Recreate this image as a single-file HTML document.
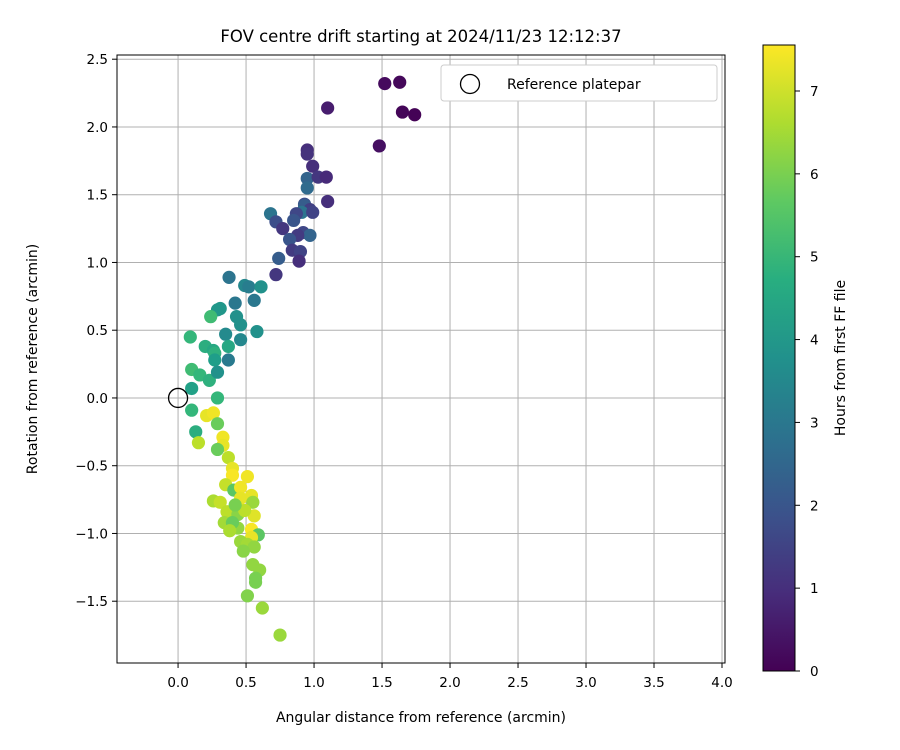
<!DOCTYPE html>
<html><head><meta charset="utf-8"><style>
body{margin:0;background:#fff;}
svg{font-family:"DejaVu Sans","Liberation Sans",sans-serif;display:block}
</style></head><body>
<svg id="chart" width="900" height="750" viewBox="0 0 900 750">
<rect width="900" height="750" fill="#fff"/>
<text x="421" y="42" text-anchor="middle" font-size="16.5" fill="#000">FOV centre drift starting at 2024/11/23 12:12:37</text>
<g id="grid"></g>
<g id="points"></g>
<rect x="117" y="55" width="608" height="608" fill="none" stroke="#000" stroke-width="1"/>
<g id="xticks"></g>
<g id="yticks"></g>
<text x="421" y="722" text-anchor="middle" font-size="14">Angular distance from reference (arcmin)</text>
<text transform="translate(37,359) rotate(-90)" text-anchor="middle" font-size="14">Rotation from reference (arcmin)</text>
<g>
<rect x="441" y="65" width="276" height="36" rx="3" fill="#fff" stroke="#ccc"/>
<circle cx="470" cy="84" r="9.5" fill="none" stroke="#000" stroke-width="1.3"/>
<text x="507" y="89" font-size="14">Reference platepar</text>
</g>
<defs><linearGradient id="vir" x1="0" y1="1" x2="0" y2="0">
<stop offset="0" stop-color="#440154"/><stop offset="0.125" stop-color="#472d7b"/><stop offset="0.25" stop-color="#3b528b"/><stop offset="0.375" stop-color="#2c728e"/><stop offset="0.5" stop-color="#21918c"/><stop offset="0.625" stop-color="#28ae80"/><stop offset="0.75" stop-color="#5ec962"/><stop offset="0.875" stop-color="#addc30"/><stop offset="1" stop-color="#fde725"/>
</linearGradient></defs>
<rect x="763" y="45" width="32" height="626" fill="url(#vir)" stroke="#000" stroke-width="1"/>
<g id="cticks"></g>
<text transform="translate(845,358) rotate(-90)" text-anchor="middle" font-size="14">Hours from first FF file</text>
</svg>
<script>
const xTicks=[0.0,0.5,1.0,1.5,2.0,2.5,3.0,3.5,4.0];
const yTicks=[-1.5,-1.0,-0.5,0.0,0.5,1.0,1.5,2.0,2.5];
const cTicks=[0,1,2,3,4,5,6,7];
const xs=[1.52,1.63,1.65,1.74,1.10,1.48,0.95,0.95,0.99,0.95,1.03,1.09,0.95,1.10,0.93,0.93,0.97,0.91,0.99,0.87,0.68,0.85,0.72,0.77,0.92,0.97,0.88,0.82,0.84,0.90,0.74,0.89,0.72,
0.375,0.49,0.52,0.61,0.42,0.56,0.31,0.29,0.24,0.43,0.46,0.58,0.35,0.46,0.09,0.20,0.26,0.27,0.37,0.37,0.27,0.10,0.16,0.23,0.29,0.10,0.29,0.10,0.21,0.26,0.29,0.13,0.15,0.33,0.33,0.37,0.29,
0.40,0.40,0.51,0.35,0.41,0.46,0.46,0.54,0.55,0.26,0.31,0.36,0.44,0.56,0.34,0.44,0.54,0.59,0.54,0.46,0.51,0.56,0.48,0.40,0.55,0.60,0.57,0.57,0.51,0.62,0.75,0.38,0.49,0.42];
const ys=[2.32,2.33,2.11,2.09,2.14,1.86,1.83,1.80,1.71,1.62,1.63,1.63,1.55,1.45,1.43,1.42,1.39,1.37,1.37,1.36,1.36,1.31,1.30,1.25,1.22,1.20,1.20,1.17,1.09,1.08,1.03,1.01,0.91,
0.89,0.83,0.82,0.82,0.70,0.72,0.66,0.65,0.60,0.60,0.54,0.49,0.47,0.43,0.45,0.38,0.35,0.33,0.38,0.28,0.28,0.21,0.17,0.13,0.19,0.07,0.00,-0.09,-0.13,-0.11,-0.19,-0.25,-0.33,-0.29,-0.35,-0.44,-0.38,
-0.52,-0.57,-0.58,-0.64,-0.68,-0.66,-0.74,-0.72,-0.77,-0.76,-0.77,-0.84,-0.86,-0.87,-0.92,-0.96,-0.97,-1.01,-1.03,-1.06,-1.08,-1.10,-1.13,-0.92,-1.23,-1.27,-1.33,-1.36,-1.46,-1.55,-1.75,-0.98,-0.83,-0.79];
const hours=[0.2,0.15,0.1,0.05,0.6,0.3,1.0,1.1,1.0,2.4,1.2,0.9,2.6,1.0,1.8,2.2,1.4,2.9,1.5,1.6,2.9,2.0,1.8,1.2,1.6,2.4,1.3,2.0,1.3,1.5,2.2,1.0,1.2,
2.9,3.5,3.2,3.8,3.0,3.0,4.0,4.0,5.2,3.8,3.8,3.8,3.6,3.5,5.0,4.7,4.5,4.8,4.5,3.1,4.2,5.2,5.0,4.8,3.8,4.3,5.0,5.0,7.3,7.4,5.8,4.7,6.8,7.4,7.3,6.8,5.8,
7.3,7.5,7.4,6.9,5.6,7.4,7.3,7.3,6.4,6.6,6.9,6.8,6.2,7.2,6.5,6.3,7.5,5.6,7.3,6.4,6.5,6.3,6.2,5.8,6.3,6.3,6.0,6.0,6.1,6.4,6.4,6.6,6.8,6.0];
const X0=117,X1=725,XMIN=-0.449,XMAX=4.022,Y0=663,Y1=55,YMIN=-1.956,YMAX=2.531;
const sx=v=>X0+(v-XMIN)/(XMAX-XMIN)*(X1-X0);
const sy=v=>Y0-(v-YMIN)/(YMAX-YMIN)*(Y0-Y1);
const CMAX=7.555,sc=v=>671-v/CMAX*626;
const NS="http://www.w3.org/2000/svg";
const vir=[[68,1,84],[72,40,120],[62,74,137],[49,104,142],[38,130,142],[31,158,137],[53,183,121],[110,206,88],[181,222,43],[253,231,37]];
function cmap(v){let t=Math.max(0,Math.min(1,v/CMAX))*(vir.length-1);let i=Math.min(Math.floor(t),vir.length-2),f=t-i;const c=vir[i].map((a,k)=>Math.round(a+(vir[i+1][k]-a)*f));return `rgb(${c})`;}
function mk(tag,attrs,parent,txt){const e=document.createElementNS(NS,tag);for(const k in attrs)e.setAttribute(k,attrs[k]);if(txt!==undefined)e.textContent=txt;parent.appendChild(e);return e;}
const grid=document.getElementById('grid'),xt=document.getElementById('xticks'),yt=document.getElementById('yticks'),pts=document.getElementById('points'),ct=document.getElementById('cticks');
xTicks.forEach(v=>{const x=sx(v);
 const g=mk('line',{x1:x,x2:x,y1:Y1,y2:Y0,stroke:'#b0b0b0','stroke-width':1},grid);
 
 
 const t=mk('line',{x1:x,x2:x,y1:Y0,y2:Y0+5,stroke:'#000'},xt);
 
 
 const l=mk('text',{x:x,y:Y0+24,'text-anchor':'middle','font-size':13.5},xt,v.toFixed(1));
 
 });
yTicks.forEach(v=>{const y=sy(v);
 const g=mk('line',{x1:X0,x2:X1,y1:y,y2:y,stroke:'#b0b0b0','stroke-width':1},grid);
 
 
 const t=mk('line',{x1:X0-5,x2:X0,y1:y,y2:y,stroke:'#000'},yt);
 
 
 const l=mk('text',{x:X0-9,y:y+5,'text-anchor':'end','font-size':13.5},yt,(v<0?'\u2212':'')+Math.abs(v).toFixed(1));
 
 });
xs.forEach((v,i)=>{const c=mk('circle',{cx:sx(v),cy:sy(ys[i]),r:6.6,fill:cmap(hours[i])},pts);
 
 });
const ref=mk('circle',{cx:sx(0),cy:sy(0),r:9.5,fill:'none',stroke:'#000','stroke-width':1.3},pts);


cTicks.forEach(v=>{const y=sc(v);
 const t=mk('line',{x1:795,x2:800,y1:y,y2:y,stroke:'#000'},ct);
 
 
 const l=mk('text',{x:810,y:y+5,'font-size':13.5},ct,String(v));
 
 });
</script>
</body></html>
